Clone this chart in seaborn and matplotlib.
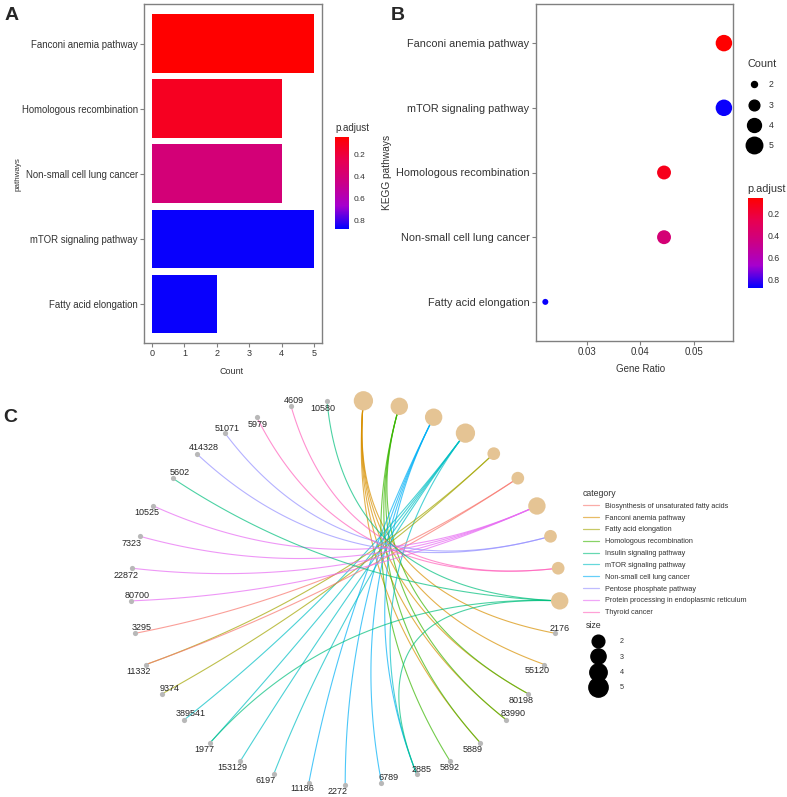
import numpy as np
import pandas as pd
import matplotlib
matplotlib.use("Agg")
import matplotlib.pyplot as plt
import seaborn as sns
from matplotlib.colors import LinearSegmentedColormap, Normalize
from matplotlib.cm import ScalarMappable
from matplotlib.lines import Line2D

# ---- panel A: barplot ----
bar_pathways = ["Fanconi anemia pathway", "Homologous recombination",
                "Non-small cell lung cancer", "mTOR signaling pathway",
                "Fatty acid elongation"]
bar_counts = [5, 4, 4, 5, 2]
bar_padj = [0.045, 0.13, 0.40, 0.87, 0.87]

# ---- panel B: dotplot ----
dot_pathways = ["Fanconi anemia pathway", "mTOR signaling pathway",
                "Homologous recombination", "Non-small cell lung cancer",
                "Fatty acid elongation"]
dot_ratio = [0.0556, 0.0556, 0.0444, 0.0444, 0.0222]
dot_counts = [5, 5, 4, 4, 2]
dot_padj = [0.06, 0.86, 0.13, 0.40, 0.86]

padj_ticks = [0.2, 0.4, 0.6, 0.8]
count_levels = [2, 3, 4, 5]

# ---- panel C: gene-concept network ----
categories = ["Biosynthesis of unsaturated fatty acids", "Fanconi anemia pathway",
              "Fatty acid elongation", "Homologous recombination",
              "Insulin signaling pathway", "mTOR signaling pathway",
              "Non-small cell lung cancer", "Pentose phosphate pathway",
              "Protein processing in endoplasmic reticulum", "Thyroid cancer"]
cat_colors = ["#F8766D", "#D89000", "#A3A500", "#39B600", "#00BF7D",
              "#00BFC4", "#00B0F6", "#9590FF", "#E76BF3", "#FF62BC"]
# order of the category nodes around the circle
cat_nodes = ["Fanconi anemia pathway", "Homologous recombination",
             "Non-small cell lung cancer", "mTOR signaling pathway",
             "Fatty acid elongation", "Biosynthesis of unsaturated fatty acids",
             "Protein processing in endoplasmic reticulum",
             "Pentose phosphate pathway", "Thyroid cancer",
             "Insulin signaling pathway"]
genes = ["2176", "55120", "80198", "83990", "5889", "5892", "2885", "6789",
         "2272", "11186", "6197", "153129", "1977", "389541", "9374", "11332",
         "3295", "80700", "22872", "7323", "10525", "5602", "414328", "51071",
         "5979", "4609", "10580"]
edge_gene = ["2176", "55120", "80198", "83990", "5889",
             "80198", "83990", "5889", "5892",
             "2885", "6789", "2272", "11186",
             "2885", "6197", "153129", "1977", "389541",
             "9374", "11332",
             "11332", "3295",
             "80700", "22872", "7323", "10525",
             "414328", "51071",
             "5979", "4609",
             "10580", "5602", "1977", "2885"]
edge_cat = (["Fanconi anemia pathway"] * 5 + ["Homologous recombination"] * 4
            + ["Non-small cell lung cancer"] * 4 + ["mTOR signaling pathway"] * 5
            + ["Fatty acid elongation"] * 2
            + ["Biosynthesis of unsaturated fatty acids"] * 2
            + ["Protein processing in endoplasmic reticulum"] * 4
            + ["Pentose phosphate pathway"] * 2 + ["Thyroid cancer"] * 2
            + ["Insulin signaling pathway"] * 4)

# label offsets (pixels, right / down) for gene names
label_shift = [(5, -5), (-7, 6), (-7, 7), (7, -6), (-7, 7), (0, 7), (5, -5),
               (7, -5), (-8, 6), (-7, 6), (-8, 6), (-8, 7), (-6, 7), (7, -6),
               (7, -5), (-7, 7), (6, -6), (6, -5), (-6, 7), (-8, 7), (-7, 7),
               (7, -6), (7, -6), (2, -5), (1, 7), (3, -6), (-4, 8)]

W, H = 787, 797
sns.set_style("white")
plt.rcParams["font.family"] = ["Liberation Sans", "DejaVu Sans"]
txt = "#333333"
frame = "#808080"

cmap = LinearSegmentedColormap.from_list(
    "padj", ["#FF0000", "#E80050", "#CA0088", "#A600CE", "#0000FF"])


def box(l, t, r, b):
    return [l / W, 1 - b / H, (r - l) / W, (b - t) / H]


fig = plt.figure(figsize=(W / 100, H / 100), dpi=100)

# ---------------- A ----------------
normA = Normalize(0.045, 0.88)
axA = fig.add_axes(box(144, 4.5, 322, 343))
dfA = pd.DataFrame({"pathway": bar_pathways, "Count": bar_counts, "padj": bar_padj})
palA = {p: cmap(normA(v)) for p, v in zip(bar_pathways, bar_padj)}
sns.barplot(data=dfA, x="Count", y="pathway", hue="pathway", palette=palA,
            order=bar_pathways, width=0.9, saturation=1, linewidth=0,
            legend=False, ax=axA)
axA.set_xlim(-0.25, 5.25)
axA.set_ylim(4.6, -0.6)
axA.set_xticks(range(6))
axA.set_xlabel("Count", fontsize=6.5, color=txt)
axA.set_ylabel("pathways", fontsize=5.8, color=txt)
axA.yaxis.set_label_coords(-0.69, 0.5)
axA.xaxis.set_label_coords(0.494, -0.072)
axA.tick_params(axis="y", labelsize=6.9)
axA.tick_params(axis="x", labelsize=6.5)
axA.tick_params(length=3, width=0.8, color=frame, labelcolor=txt, pad=1.5,
                left=True, bottom=True)
for s in axA.spines.values():
    s.set_color(frame)
    s.set_linewidth(1.0)

caxA = fig.add_axes(box(335.3, 137, 349, 229))
cbA = fig.colorbar(ScalarMappable(norm=normA, cmap=cmap), cax=caxA, ticks=padj_ticks)
caxA.invert_yaxis()
cbA.outline.set_visible(False)
caxA.tick_params(length=2.5, width=0.8, color="white", direction="in",
                 labelsize=6, labelcolor=txt, pad=3)
caxA.set_title("p.adjust", loc="left", fontsize=7, color=txt, pad=4)

# ---------------- B ----------------
normB = Normalize(0.06, 0.875)
axB = fig.add_axes(box(535.7, 4.3, 733, 340.7))
dfB = pd.DataFrame({"pathway": dot_pathways, "ratio": dot_ratio,
                    "Count": dot_counts, "padj": dot_padj})
s_min, s_max = (6 * 0.72) ** 2, (16.5 * 0.72) ** 2
sns.scatterplot(data=dfB, x="ratio", y="pathway", hue="padj", hue_norm=normB,
                palette=cmap, size="Count", sizes=(s_min, s_max),
                size_norm=(2, 5), linewidth=0, legend=False, ax=axB)
axB.set_xlim(0.0204, 0.0573)
axB.set_ylim(4.6, -0.6)
axB.set_xticks([0.03, 0.04, 0.05])
axB.set_xticklabels(["0.03", "0.04", "0.05"])
axB.set_xlabel("Gene Ratio", fontsize=7, color=txt)
axB.set_ylabel("KEGG pathways", fontsize=7.3, color=txt)
axB.yaxis.set_label_coords(-0.73, 0.5)
axB.xaxis.set_label_coords(0.53, -0.07)
axB.tick_params(axis="y", labelsize=7.8)
axB.tick_params(axis="x", labelsize=7)
axB.tick_params(length=3, width=0.8, color=frame, labelcolor=txt, pad=1.5,
                left=True, bottom=True)
for s in axB.spines.values():
    s.set_color(frame)
    s.set_linewidth(1.0)


def marker_pt(n):
    return np.sqrt(s_min + (s_max - s_min) * (n - 2) / 3)


cnt_handles = [Line2D([], [], ls="", marker="o", color="black", markersize=marker_pt(n))
               for n in count_levels]
legB = fig.legend(cnt_handles, [str(n) for n in count_levels], title="Count",
                  loc="upper left", bbox_to_anchor=(747 / W, 1 - 59 / H),
                  frameon=False, fontsize=6.3, title_fontsize=7.8, alignment="left",
                  handlelength=1.6, handletextpad=0.9, labelspacing=1.3,
                  borderaxespad=0, borderpad=0)
for t in legB.get_texts():
    t.set_color(txt)
legB.get_title().set_color(txt)

caxB = fig.add_axes(box(747.7, 197.7, 763.3, 288.3))
cbB = fig.colorbar(ScalarMappable(norm=normB, cmap=cmap), cax=caxB, ticks=padj_ticks)
caxB.invert_yaxis()
cbB.outline.set_visible(False)
caxB.tick_params(length=2.5, width=0.8, color="white", direction="in",
                 labelsize=6.3, labelcolor=txt, pad=3)
caxB.set_title("p.adjust", loc="left", fontsize=7.8, color=txt, pad=4)

# ---------------- C ----------------
cx, cy, rx, ry = 345.2 / W, 1 - 592.7 / H, 214.7 / W, 192.6 / H
axC = fig.add_axes([cx - 1.2 * rx, cy - 1.06 * ry, 2.4 * rx, 2.26 * ry])
axC.set_xlim(-1.2, 1.2)
axC.set_ylim(-1.06, 1.2)
axC.axis("off")

nodes = cat_nodes + genes
step = 2 * np.pi / len(nodes)
ang = np.pi / 2 - step / 2 - step * np.arange(len(nodes))
pos = {n: (np.cos(a), np.sin(a)) for n, a in zip(nodes, ang)}
col = dict(zip(categories, cat_colors))

t = np.linspace(0, 1, 80)[:, None]
for g, c in zip(edge_gene, edge_cat):
    p0, p2 = np.array(pos[g]), np.array(pos[c])
    curve = (1 - t) ** 2 * p0 + t ** 2 * p2  # control point at the centre
    axC.plot(curve[:, 0], curve[:, 1], color=col[c], alpha=0.7, lw=0.8,
             solid_capstyle="round")

cat_size = [edge_cat.count(c) for c in cat_nodes]
dfCat = pd.DataFrame({"x": [pos[c][0] for c in cat_nodes],
                      "y": [pos[c][1] for c in cat_nodes], "size": cat_size})
c_min, c_max = (12.7 * 0.72) ** 2, (19.3 * 0.72) ** 2
sns.scatterplot(data=dfCat, x="x", y="y", size="size", sizes=(c_min, c_max),
                size_norm=(2, 5), color="#E5C494", linewidth=0, legend=False,
                ax=axC, zorder=3)
dfGene = pd.DataFrame({"x": [pos[g][0] for g in genes], "y": [pos[g][1] for g in genes]})
sns.scatterplot(data=dfGene, x="x", y="y", color="#B8B8B8", s=14, linewidth=0,
                legend=False, ax=axC, zorder=3)
for g, (dx, dy) in zip(genes, label_shift):
    axC.annotate(g, xy=pos[g], xytext=(dx * 0.72, -dy * 0.72),
                 textcoords="offset points", ha="center", va="center",
                 fontsize=6.5, color="#262626", zorder=4)
axC.set_xlabel("")
axC.set_ylabel("")

cat_handles = [Line2D([], [], color=c, alpha=0.6, lw=0.9) for c in cat_colors]
legC = fig.legend(cat_handles, categories, title="category", loc="upper left",
                  bbox_to_anchor=(583 / W, 1 - 489 / H), frameon=False,
                  fontsize=5.2, title_fontsize=6.3, alignment="left",
                  handlelength=2.2, handletextpad=0.9, labelspacing=0.66,
                  borderaxespad=0, borderpad=0)
for tt in legC.get_texts():
    tt.set_color(txt)
legC.get_title().set_color(txt)


def node_pt(n):
    return np.sqrt(c_min + (c_max - c_min) * (n - 2) / 3)


size_handles = [Line2D([], [], ls="", marker="o", color="black", markersize=node_pt(n))
                for n in count_levels]
legS = fig.legend(size_handles, [str(n) for n in count_levels], title="size",
                  loc="upper left", bbox_to_anchor=(586 / W, 1 - 621 / H),
                  frameon=False, fontsize=5.2, title_fontsize=6.3, alignment="left",
                  handlelength=3.3, handletextpad=1.4, labelspacing=1.15,
                  borderaxespad=0, borderpad=0)
for tt in legS.get_texts():
    tt.set_color(txt)
legS.get_title().set_color(txt)

# panel letters
for letter, x, y in [("A", 12, 16), ("B", 398, 16), ("C", 10, 418)]:
    fig.text(x / W, 1 - y / H, letter, fontsize=14, fontweight="bold",
             ha="center", va="center")

fig.savefig("out.png", dpi=100)
